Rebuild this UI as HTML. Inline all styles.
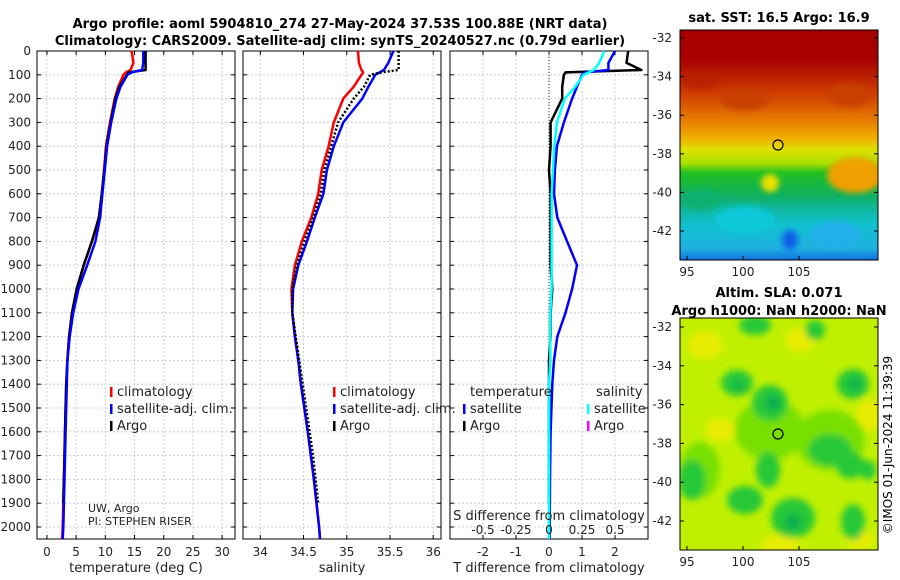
<!DOCTYPE html>
<html><head><meta charset="utf-8"><style>
body{margin:0;background:#fff;}
svg{display:block;font-family:"DejaVu Sans","Liberation Sans",sans-serif;}
</style></head><body>
<svg id="chart" width="900" height="580" viewBox="0 0 900 580" xmlns="http://www.w3.org/2000/svg">
<defs>
<filter id="blur4" x="-30%" y="-30%" width="160%" height="160%"><feGaussianBlur stdDeviation="3"/></filter>
<filter id="blur6" x="-30%" y="-30%" width="160%" height="160%"><feGaussianBlur stdDeviation="3.5"/></filter>
<clipPath id="c1"><rect x="680" y="30" width="198" height="230"/></clipPath>
<clipPath id="c2"><rect x="680" y="318" width="198" height="232"/></clipPath>
<linearGradient id="sstg" x1="0" y1="0" x2="0" y2="1">
<stop offset="0" stop-color="#a50000"/><stop offset="0.13" stop-color="#a80000"/>
<stop offset="0.28" stop-color="#d04000"/><stop offset="0.4" stop-color="#e88000"/>
<stop offset="0.47" stop-color="#f0b000"/><stop offset="0.52" stop-color="#e0e000"/>
<stop offset="0.58" stop-color="#a8e000"/><stop offset="0.62" stop-color="#20c020"/>
<stop offset="0.72" stop-color="#10b060"/><stop offset="0.78" stop-color="#10b8a0"/>
<stop offset="0.85" stop-color="#10c0d0"/><stop offset="0.95" stop-color="#20b0e0"/>
<stop offset="1" stop-color="#1070e0"/></linearGradient>
</defs>
<g id="titles">
<text x="340" y="28" text-anchor="middle" font-size="13" font-weight="bold">Argo profile: aoml 5904810_274 27-May-2024 37.53S 100.88E (NRT data)</text>
<text x="340" y="45" text-anchor="middle" font-size="13" font-weight="bold">Climatology: CARS2009. Satellite-adj clim: synTS_20240527.nc (0.79d earlier)</text>
</g>
<g id="plots"></g>
<g id="maps">
<text x="779" y="22" text-anchor="middle" font-size="13" font-weight="bold">sat. SST: 16.5 Argo: 16.9</text>
<g clip-path="url(#c1)">
<rect x="680" y="30" width="198" height="230" fill="url(#sstg)"/>
<g filter="url(#blur4)">
<ellipse cx="745" cy="100" rx="25" ry="10" fill="#c84000"/>
<ellipse cx="850" cy="95" rx="22" ry="12" fill="#c84000"/>
<ellipse cx="700" cy="80" rx="20" ry="8" fill="#b82000"/>
<ellipse cx="855" cy="175" rx="28" ry="18" fill="#f0a000"/>
<ellipse cx="770" cy="183" rx="9" ry="9" fill="#e8e000"/>
<ellipse cx="745" cy="220" rx="30" ry="14" fill="#10c8d8"/>
<ellipse cx="835" cy="235" rx="25" ry="14" fill="#20b0e8"/>
<ellipse cx="790" cy="240" rx="8" ry="10" fill="#1060e8"/>
<ellipse cx="700" cy="200" rx="20" ry="10" fill="#10b070"/>
</g>
<circle cx="778" cy="145" r="5" fill="none" stroke="#000" stroke-width="1.2"/>
</g>
<rect x="680" y="30" width="198" height="230" fill="none" stroke="#000"/>
<text x="779" y="297" text-anchor="middle" font-size="13" font-weight="bold">Altim. SLA: 0.071</text>
<text x="779" y="315" text-anchor="middle" font-size="13" font-weight="bold">Argo h1000: NaN h2000: NaN</text>
<g clip-path="url(#c2)">
<rect x="680" y="318" width="198" height="232" fill="#c0f000"/>
<g filter="url(#blur6)">
<g fill="#e8ec00">
<ellipse cx="705" cy="345" rx="18" ry="14"/>
<ellipse cx="800" cy="340" rx="15" ry="12"/>
<ellipse cx="870" cy="415" rx="14" ry="16"/>
<ellipse cx="780" cy="545" rx="20" ry="10"/>
<ellipse cx="720" cy="430" rx="15" ry="12"/>
<ellipse cx="860" cy="540" rx="14" ry="10"/>
</g>
<g fill="#78e000">
<ellipse cx="700" cy="470" rx="20" ry="28"/>
<ellipse cx="770" cy="430" rx="35" ry="30"/>
<ellipse cx="830" cy="440" rx="35" ry="30"/>
</g>
<g fill="#28c838">
<ellipse cx="755" cy="325" rx="16" ry="10"/>
<ellipse cx="815" cy="330" rx="10" ry="10"/>
<ellipse cx="737" cy="383" rx="16" ry="13"/>
<ellipse cx="770" cy="403" rx="18" ry="18"/>
<ellipse cx="853" cy="384" rx="16" ry="15"/>
<ellipse cx="830" cy="450" rx="22" ry="16"/>
<ellipse cx="850" cy="465" rx="14" ry="14"/>
<ellipse cx="768" cy="470" rx="12" ry="18"/>
<ellipse cx="692" cy="480" rx="14" ry="20"/>
<ellipse cx="745" cy="500" rx="18" ry="14"/>
<ellipse cx="793" cy="518" rx="22" ry="20"/>
<ellipse cx="853" cy="522" rx="12" ry="18"/>
<ellipse cx="868" cy="470" rx="8" ry="10"/>
</g>
<g fill="#10b050">
<ellipse cx="773" cy="403" rx="8" ry="8"/>
<ellipse cx="855" cy="384" rx="6" ry="6"/>
<ellipse cx="793" cy="522" rx="8" ry="8"/>
<ellipse cx="738" cy="385" rx="5" ry="5"/>
</g>
</g>
<circle cx="778" cy="434" r="5" fill="none" stroke="#000" stroke-width="1.2"/>
</g>
<rect x="680" y="318" width="198" height="232" fill="none" stroke="#000"/>
<text transform="translate(892,445) rotate(-90)" text-anchor="middle" font-size="12">©IMOS 01-Jun-2024 11:39:39</text>
</g>
</svg>
<script>
// depth levels (dbar)
const depthA = [0,50,80,90,100,150,200,300,400,500,600,700,800,900,1000,1100,1200,1300,1400,1500,1600,1700,1800,1900];
const depthC = [0,50,80,90,100,150,200,300,400,500,600,700,800,900,1000,1100,1200,1300,1400,1600,1800,2000,2050];
// temperature
const tClim = [14.5,14.8,14.3,13.5,13.1,12.2,11.6,10.8,10.1,9.8,9.4,8.9,7.7,6.3,5.1,4.3,3.8,3.5,3.3,3.1,2.9,2.7,2.6];
const tSat  = [16.5,16.5,16.3,14.5,13.8,12.6,11.9,11.0,10.3,9.9,9.5,9.1,8.3,6.9,5.4,4.5,3.9,3.5,3.4,3.2,3.0,2.8,2.7];
const tArgo = [16.9,16.9,16.9,14.0,13.7,12.4,11.7,10.9,10.2,9.8,9.4,8.9,7.7,6.3,5.1,4.3,3.8,3.5,3.3,3.2,3.1,3.0,2.9,2.8];
// salinity
const sClim = [35.13,35.14,35.17,35.19,35.17,35.08,34.96,34.85,34.79,34.71,34.67,34.59,34.48,34.40,34.36,34.37,34.40,34.44,34.47,34.55,34.62,34.68,34.69];
const sSat  = [35.54,35.48,35.43,35.38,35.33,35.25,35.18,34.96,34.85,34.77,34.73,34.63,34.54,34.44,34.38,34.37,34.40,34.44,34.47,34.55,34.62,34.68,34.69];
const sArgo = [35.60,35.60,35.60,35.40,35.27,35.20,35.08,34.90,34.82,34.74,34.70,34.61,34.51,34.42,34.37,34.37,34.41,34.45,34.49,34.53,34.57,34.61,34.64,34.67];
// differences from climatology
const dTSat  = [2.0,1.8,1.8,1.1,1.0,0.85,0.7,0.45,0.24,0.18,0.15,0.25,0.55,0.85,0.7,0.5,0.25,0.15,0.1,0.05,0.03,0.02,0.02];
const dTArgo = [2.4,2.35,2.8,0.5,0.45,0.4,0.4,0.05,0.05,0.0,0.05,0.05,0.05,0.05,0.1,0.05,0.05,0.0,0.0,0.0,0.0,0.0,0.0,0.0];
const dSSat  = [0.42,0.38,0.34,0.30,0.26,0.20,0.12,0.06,0.04,0.03,0.02,0.02,0.02,0.02,0.02,0.01,0.01,0.01,0.0,0.0,0.0,0.0,0.0];
const depthTicks = [0,100,200,300,400,500,600,700,800,900,1000,1100,1200,1300,1400,1500,1600,1700,1800,1900,2000];
const tTicks = [0,5,10,15,20,25,30];
const sTicks = [34,34.5,35,35.5,36];
const dTTicks = [-2,-1,0,1,2];
const dSTicks = [-0.5,-0.25,0,0.25,0.5];
const dSTickLabels = ["-0.5","-0.25","0","0.25","0.5"];
const latTicks = [-32,-34,-36,-38,-40,-42];
const lonTicks = [95,100,105];

const NS="http://www.w3.org/2000/svg";
const root=document.getElementById('plots');
function el(tag,attrs,parent){const e=document.createElementNS(NS,tag);for(const k in attrs)e.setAttribute(k,attrs[k]);(parent||root).appendChild(e);return e;}
function txt(x,y,s,size,anchor,parent){const t=el('text',{x:x,y:y,'font-size':size,'text-anchor':anchor,fill:'#222'},parent);t.textContent=s;return t;}
const Y0=51, YK=0.238, YB=539;
const yS=d=>Y0+d*YK;
const panels=[
 {x0:37,x1:235,v0:-1.7,v1:32.2},
 {x0:243,x1:441,v0:33.8,v1:36.09},
 {x0:450,x1:648,v0:-3,v1:3}
];
function xs(p,v){return p.x0+(v-p.v0)/(p.v1-p.v0)*(p.x1-p.x0);}
function line(p,vals,deps,color,w,name,dash){
 const pts=vals.map((v,i)=>xs(p,v).toFixed(1)+','+yS(deps[i]).toFixed(1)).join(' ');
 const l=el('polyline',{points:pts,fill:'none',stroke:color,'stroke-width':w,'stroke-linejoin':'round'});
 if(dash)l.setAttribute('stroke-dasharray',dash);
 
 
 return l;
}
panels.forEach((p,pi)=>{
 const g=el('g',{});
 
 
 depthTicks.forEach(d=>{el('line',{x1:p.x0,x2:p.x1,y1:yS(d),y2:yS(d),stroke:'#b8c4dc','stroke-width':0.8,'stroke-dasharray':'2,2'},g);
  el('line',{x1:p.x0,x2:p.x0+4,y1:yS(d),y2:yS(d),stroke:'#000'},g);el('line',{x1:p.x1-4,x2:p.x1,y1:yS(d),y2:yS(d),stroke:'#000'},g);});
 const ticks=pi==0?tTicks:pi==1?sTicks:dTTicks;
 ticks.forEach(v=>{const x=xs(p,v);el('line',{x1:x,x2:x,y1:Y0,y2:YB,stroke:'#b8c4dc','stroke-width':0.8,'stroke-dasharray':'2,2'},g);
  el('line',{x1:x,x2:x,y1:YB,y2:YB-4,stroke:'#000'},g);el('line',{x1:x,x2:x,y1:Y0,y2:Y0+4,stroke:'#000'},g);
  const t=txt(x,556,String(v),12,'middle',g);});
 el('rect',{x:p.x0,y:Y0,width:p.x1-p.x0,height:YB-Y0,fill:'none',stroke:'#000'},g);
});
depthTicks.forEach(d=>{const t=txt(31,yS(d)+4,String(d),12,'end');
 
 });
const P1=panels[0],P2=panels[1],P3=panels[2];
line(P1,tClim,depthC,'#f00',2.5,'temp-climatology-line');
line(P1,tArgo,depthA,'#000',2.5,'temp-argo-line');
line(P1,tSat,depthC,'#00f',2.5,'temp-satellite-line');
line(P2,sClim,depthC,'#f00',2.5,'sal-climatology-line');
line(P2,sSat,depthC,'#00f',2.5,'sal-satellite-line');
line(P2,sArgo,depthA,'#000',2.5,'sal-argo-line','2,2');
const zl=el('line',{x1:xs(P3,0),x2:xs(P3,0),y1:Y0,y2:YB,stroke:'#333','stroke-dasharray':'1,2'});

line(P3,dTArgo,depthA,'#000',2.5,'tdiff-argo-line');
line(P3,dTSat,depthC,'#00f',2.5,'tdiff-satellite-line');
line(P3,dSSat.map(v=>v*4),depthC,'#0ff',2.5,'sdiff-satellite-line');
[[136,'temperature (deg C)'],[342,'salinity'],[549,'T difference from climatology']].forEach(a=>{const t=txt(a[0],572,a[1],13,'middle');});
const st=txt(549,520,'S difference from climatology',13,'middle');
dSTicks.forEach((v,i)=>{const t=txt(xs(P3,v*4),534,dSTickLabels[i],12,'middle');});
function leg(x,y,c,s){const g=el('g',{});
 el('rect',{x:x,y:y-9,width:2.5,height:10,fill:c},g);txt(x+7,y,s,13,'start',g);}
[[110,P1],[333,P2]].forEach(a=>{leg(a[0],396,'#f00','climatology');leg(a[0],413,'#00f','satellite-adj. clim.');leg(a[0],430,'#000','Argo');});
txt(470,396,'temperature',13,'start');txt(596,396,'salinity',13,'start');
leg(463,413,'#00f','satellite');leg(463,430,'#000','Argo');
leg(587,413,'#0ff','satellite');leg(587,430,'#f0f','Argo');
txt(88,512,'UW, Argo',11,'start');txt(88,525,'PI: STEPHEN RISER',11,'start');
function mapTicks(y32,step,top,h){const g=el('g',{},document.getElementById('maps'));
 latTicks.forEach((v,i)=>{const y=y32+i*step;el('line',{x1:878,x2:874,y1:y,y2:y,stroke:'#000'},g);el('line',{x1:680,x2:684,y1:y,y2:y,stroke:'#000'},g);txt(672,y+4,String(v),12,'end',g);});
 lonTicks.forEach(v=>{const x=687+(v-95)*11.2;el('line',{x1:x,x2:x,y1:top+h,y2:top+h-4,stroke:'#000'},g);txt(x,top+h+16,String(v),12,'middle',g);});}
mapTicks(38,38.6,30,230);mapTicks(327,38.8,318,232);
</script>
</body></html>
